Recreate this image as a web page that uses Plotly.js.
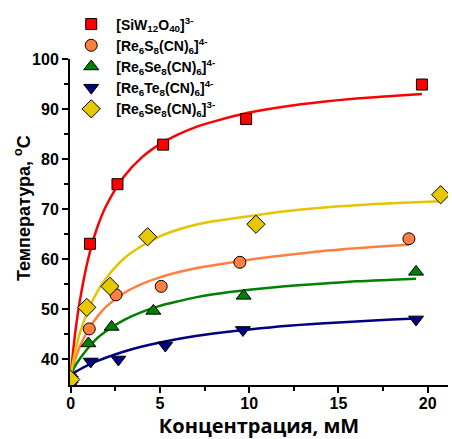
<!DOCTYPE html>
<html>
<head>
<meta charset="utf-8">
<script src="https://cdn.plot.ly/plotly-3.0.1.min.js"></script>
<style>
  html, body { margin: 0; padding: 0; background: #fff; }
  #chart { width: 452px; height: 439px; }
</style>
</head>
<body>
<div id="chart"></div>
<script>
// Measured melting temperatures vs. concentration for each cluster anion
const seriesNames = [
  '[SiW<sub>12</sub>O<sub>40</sub>]<sup>3-</sup>',
  '[Re<sub>6</sub>S<sub>8</sub>(CN)<sub>6</sub>]<sup>4-</sup>',
  '[Re<sub>6</sub>Se<sub>8</sub>(CN)<sub>6</sub>]<sup>4-</sup>',
  '[Re<sub>6</sub>Te<sub>8</sub>(CN)<sub>6</sub>]<sup>4-</sup>',
  '[Re<sub>6</sub>Se<sub>8</sub>(CN)<sub>6</sub>]<sup>3-</sup>'
];

const siwX = [0, 1.08, 2.62, 5.18, 9.83, 19.68];
const siwY = [36, 63.1, 75.0, 82.9, 88.0, 94.9];

const resX = [0, 1.04, 2.54, 5.07, 9.48, 18.95];
const resY = [36, 46.1, 52.9, 54.6, 59.4, 64.1];

const reseX = [0, 0.99, 2.29, 4.63, 9.69, 19.35];
const reseY = [36, 43.2, 46.5, 49.7, 52.7, 57.5];

const reteX = [0, 1.12, 2.67, 5.30, 9.65, 19.35];
const reteY = [36, 39.6, 40.0, 42.8, 45.9, 48.0];

const rese3X = [0, 0.90, 2.20, 4.31, 10.38, 20.73];
const rese3Y = [36, 50.4, 54.6, 64.5, 67.0, 72.9];

// Saturation fit curves, sampled along concentration
const fitX = [0, 0.25, 0.5, 1, 1.5, 2, 3, 4, 5, 6, 7, 8, 10, 12, 14, 16, 18];
const siwFitEndX = 19.68, siwFitEnd = 93.0;
const siwFit = [37, 45.3, 51.5, 60.4, 66.5, 70.8, 76.6, 80.4, 83.0, 84.9, 86.4, 87.5, 89.3, 90.5, 91.4, 92.1, 92.6];
const resFitEndX = 18.95, resFitEnd = 62.9;
const resFit = [37, 40.0, 42.5, 46.0, 48.6, 50.6, 53.3, 55.1, 56.4, 57.4, 58.2, 58.8, 59.9, 60.8, 61.6, 62.2, 62.7];
const reseFitEndX = 19.35, reseFitEnd = 56.1;
const reseFit = [37, 38.7, 40.1, 42.4, 44.3, 45.7, 47.9, 49.5, 50.7, 51.6, 52.4, 53.0, 53.9, 54.6, 55.1, 55.6, 55.9];
const reteFitEndX = 19.35, reteFitEnd = 48.2;
const reteFit = [37, 37.5, 38.0, 38.9, 39.7, 40.4, 41.6, 42.6, 43.4, 44.1, 44.7, 45.2, 46.0, 46.7, 47.2, 47.6, 48.0];
const rese3FitEndX = 20.73, rese3FitEnd = 71.6;
const rese3Fit = [37, 41.5, 45.1, 50.0, 53.6, 56.3, 60.2, 62.7, 64.6, 65.9, 66.9, 67.6, 68.6, 69.6, 70.3, 70.8, 71.2];

const lineColors = ['#ff0000', '#ff8040', '#008000', '#000080', '#e6c400'];
const markerColors = ['#ff0000', '#ff8040', '#008000', '#000080', '#e6c800'];
const symbols = ['square', 'circle', 'triangle-up', 'triangle-down', 'diamond'];
const sizes = [11, 12, 13, 13, 14];

const pts = [[siwX, siwY], [resX, resY], [reseX, reseY], [reteX, reteY], [rese3X, rese3Y]];
const fits = [
  [siwFit, siwFitEndX, siwFitEnd],
  [resFit, resFitEndX, resFitEnd],
  [reseFit, reseFitEndX, reseFitEnd],
  [reteFit, reteFitEndX, reteFitEnd],
  [rese3Fit, rese3FitEndX, rese3FitEnd]
];

const traces = [];
fits.forEach((f, i) => {
  traces.push({
    x: fitX.concat([f[1]]),
    y: f[0].concat([f[2]]),
    mode: 'lines',
    line: { color: lineColors[i], width: 2.5, shape: 'spline', smoothing: 0.8 },
    showlegend: false,
    hoverinfo: 'skip'
  });
});
pts.forEach((p, i) => {
  traces.push({
    x: p[0],
    y: p[1],
    name: seriesNames[i],
    mode: 'markers',
    marker: {
      symbol: symbols[i],
      size: sizes[i],
      color: markerColors[i],
      line: { color: '#000', width: 1 }
    }
  });
});

const sans = 'Liberation Sans, Arial, sans-serif';
const tickFont = { family: sans, size: 16, color: '#000', weight: 'bold' };

const layout = {
  width: 452,
  height: 439,
  margin: { l: 70, r: 4, t: 59, b: 54 },
  paper_bgcolor: '#fff',
  plot_bgcolor: '#fff',
  showlegend: true,
  legend: {
    x: -0.01, y: 1.155, xanchor: 'left', yanchor: 'top',
    bgcolor: 'rgba(0,0,0,0)',
    itemwidth: 40,
    font: { family: sans, size: 14, color: '#000', weight: 'bold' },
    tracegroupgap: 0
  },
  xaxis: {
    range: [-0.04, 21.14],
    showline: true, linecolor: '#000', linewidth: 2,
    showgrid: false, zeroline: false,
    ticks: 'outside', ticklen: 6, tickwidth: 2, tickcolor: '#000',
    tickmode: 'array', tickvals: [0, 5, 10, 15, 20],
    minor: { tickvals: [2.5, 7.5, 12.5, 17.5], ticks: 'outside', ticklen: 4, tickwidth: 2, tickcolor: '#000' },
    tickfont: tickFont,
    ticklabelstandoff: -3,
    title: {
      text: 'Концентрация, мМ',
      font: { family: 'Open Sans, sans-serif', size: 20, color: '#000', weight: 'bold' },
      standoff: 6
    },
    automargin: false
  },
  yaxis: {
    range: [34.9, 100],
    showline: true, linecolor: '#000', linewidth: 2,
    showgrid: false, zeroline: false,
    ticks: 'outside', ticklen: 6, tickwidth: 2, tickcolor: '#000',
    tickmode: 'array', tickvals: [40, 50, 60, 70, 80, 90, 100],
    minor: { tickvals: [45, 55, 65, 75, 85, 95], ticks: 'outside', ticklen: 4, tickwidth: 2, tickcolor: '#000' },
    tickfont: tickFont,
    automargin: false
  },
  annotations: [{
    text: 'Температура, <sup>o</sup>C',
    xref: 'paper', yref: 'paper',
    x: -0.124, y: 0.543,
    xanchor: 'center', yanchor: 'middle',
    textangle: -90,
    showarrow: false,
    font: { family: sans, size: 18, color: '#000', weight: 'bold' }
  }]
};

Plotly.newPlot('chart', traces, layout, { displayModeBar: false, staticPlot: true });
</script>
</body>
</html>
